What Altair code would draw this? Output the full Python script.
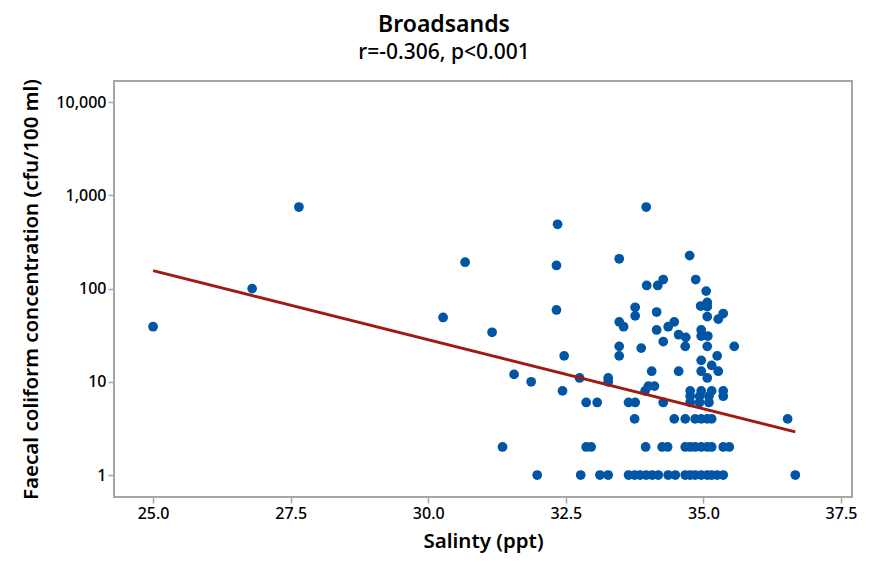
"""
Broadsands: faecal coliform concentration against salinity, log scale with fitted line
"""

import pandas as pd
import altair as alt

# Salinity (ppt) and faecal coliform (cfu/100 ml)
salinity = [
    25.0, 26.8, 27.65, 30.27, 30.67, 31.16, 31.56, 31.87, 31.35, 31.98,
    32.35, 32.33, 32.33, 32.47, 32.44, 32.75, 32.87, 33.07, 32.77, 32.87,
    32.96, 33.12, 33.27, 33.27, 33.27, 33.47, 33.47, 33.55, 33.47, 33.47,
    33.64, 33.76, 33.75, 33.76, 33.76, 33.87, 33.96, 33.97, 34.17, 34.27,
    34.15, 34.15, 34.36, 34.47, 34.27, 34.55, 34.68, 34.67, 34.06, 34.55,
    33.94, 34.0, 34.11, 34.27,
    34.47, 34.67, 34.85, 34.96, 35.07, 35.15, 36.53,
    33.95, 34.25, 34.35, 34.67, 34.76, 34.85, 34.96, 35.07, 35.15, 35.36, 35.47,
    33.64, 33.75, 33.85, 33.96, 34.07, 34.18, 34.36, 34.49, 34.67, 34.76,
    34.85, 34.96, 35.07, 35.15, 35.25, 35.36, 36.67,
    34.75, 34.86, 35.05, 34.95, 35.07, 35.07, 35.07, 35.27, 35.36, 34.96,
    34.96, 35.08, 35.07, 35.56, 35.25, 35.15, 35.27, 34.96, 34.96, 35.07,
    34.76, 34.96, 35.15, 35.36,
    34.76, 34.93, 35.1, 35.36,
    34.76, 34.93, 35.1,
]
coliform = [
    39, 100, 750, 49, 192, 34, 12, 10, 2, 1,
    490, 177, 59, 19, 8, 11, 6, 6, 1, 2,
    2, 1, 1, 11, 10, 209, 44, 39, 24, 19,
    6, 6, 4, 63, 51, 23, 750, 108, 108, 125,
    56, 36, 39, 44, 27, 32, 30, 24, 13, 13,
    8, 9, 9, 6,
    4, 4, 4, 4, 4, 4, 4,
    2, 2, 2, 2, 2, 2, 2, 2, 2, 2, 2,
    1, 1, 1, 1, 1, 1, 1, 1, 1, 1,
    1, 1, 1, 1, 1, 1, 1,
    226, 125, 94, 65, 71, 64, 50, 47, 54, 36,
    31, 31, 24, 24, 19, 15, 13, 17, 13, 11,
    8, 8, 8, 8,
    7, 7, 7, 7,
    6, 6, 6,
]

# Fitted regression line end points
fit_salinity = [25.0, 36.67]
fit_coliform = [156, 2.9]

y_ticks = [1, 10, 100, 1000, 10000]
x_ticks = [25.0, 27.5, 30.0, 32.5, 35.0, 37.5]

df = pd.DataFrame({'Salinity': salinity, 'Coliform': coliform})
df_fit = pd.DataFrame({'Salinity': fit_salinity, 'Coliform': fit_coliform})

font = 'Noto Sans'

x_enc = alt.X('Salinity:Q',
              title='Salinty (ppt)',
              scale=alt.Scale(domain=[24.29, 37.70], nice=False, zero=False),
              axis=alt.Axis(values=x_ticks, format='.1f'))
y_enc = alt.Y('Coliform:Q',
              title='Faecal coliform concentration (cfu/100 ml)',
              scale=alt.Scale(type='log', domain=[0.581, 16870], nice=False),
              axis=alt.Axis(values=y_ticks, format=',d'))

points = alt.Chart(df).mark_circle(
    size=95, color='#0055A5', opacity=1
).encode(x=x_enc, y=y_enc)

fit = alt.Chart(df_fit).mark_line(
    color='#9E1A12', strokeWidth=3
).encode(x='Salinity:Q', y='Coliform:Q')

chart = (points + fit).properties(
    width=738,
    height=416,
    autosize=alt.AutoSizeParams(type='none'),
    padding={'left': 106, 'top': 73, 'right': 19, 'bottom': 57},
    title=alt.Title('Broadsands', subtitle='r=-0.306, p<0.001')
).configure_view(
    stroke='#A6A6A6',
    strokeWidth=2
).configure_axis(
    domain=False,
    grid=False,
    tickColor='#A6A6A6',
    tickSize=6,
    tickWidth=1.5,
    labelFont=font,
    labelFontSize=16,
    labelFontWeight=500,
    labelColor='#000000',
    labelPadding=2,
    titleFont=font,
    titleFontSize=20.5,
    titleFontWeight=600,
    titleColor='#000000'
).configure_axisX(
    titlePadding=10
).configure_axisY(
    titlePadding=14
).configure_title(
    font=font,
    fontSize=23,
    fontWeight=600,
    color='#000000',
    subtitleFont=font,
    subtitleFontSize=21,
    subtitleFontWeight=500,
    subtitleColor='#000000',
    subtitlePadding=5,
    anchor='middle',
    dx=-39,
    offset=16
)

chart.save("out.html", embed_options={"renderer": "svg", "actions": False})
